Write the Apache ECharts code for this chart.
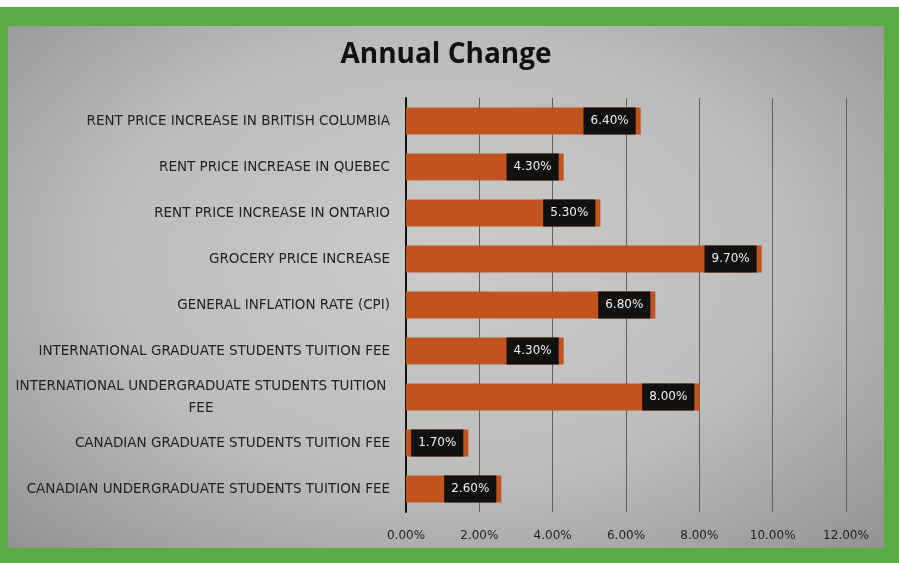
<!DOCTYPE html>
<html>
<head>
<meta charset="utf-8">
<script src="https://cdn.jsdelivr.net/npm/echarts@6/dist/echarts.min.js"></script>
<style>
  html, body { margin: 0; padding: 0; background: #fff; }
  #frame { position: absolute; left: 0; top: 7px; width: 899px; height: 556px; background: #5aab44; }
  #chart { position: absolute; left: 8px; top: 19px; width: 876px; height: 522px;
    background: radial-gradient(ellipse at 50% 45%, #cbcbcb 0%, #bcbcbc 55%, #929292 100%); }
</style>
</head>
<body>
<div id="frame"><div id="chart"></div></div>
<script>
// categories top -> bottom
var categories = [
  'RENT PRICE INCREASE IN BRITISH COLUMBIA',
  'RENT PRICE INCREASE IN QUEBEC',
  'RENT PRICE INCREASE IN ONTARIO',
  'GROCERY PRICE INCREASE',
  'GENERAL INFLATION RATE (CPI)',
  'INTERNATIONAL GRADUATE STUDENTS TUITION FEE',
  'INTERNATIONAL UNDERGRADUATE STUDENTS TUITION FEE',
  'CANADIAN GRADUATE STUDENTS TUITION FEE',
  'CANADIAN UNDERGRADUATE STUDENTS TUITION FEE'
];
var annualChange = [6.4, 4.3, 5.3, 9.7, 6.8, 4.3, 8.0, 1.7, 2.6];
var xTicks = [0, 2, 4, 6, 8, 10, 12];

var chart = echarts.init(document.getElementById('chart'));

chart.setOption({
  textStyle: { fontFamily: 'DejaVu Sans' },
  title: {
    text: 'Annual Change',
    left: 'center',
    top: 10,
    textStyle: { fontSize: 28, fontWeight: 'bold', color: '#111', fontFamily: 'Open Sans' }
  },
  grid: { left: 398, right: 38, top: 72, bottom: 36 },
  xAxis: {
    type: 'value',
    min: xTicks[0],
    max: xTicks[xTicks.length - 1],
    interval: 2,
    axisLine: { show: false },
    axisTick: { show: false },
    axisLabel: {
      color: '#222', fontSize: 12, margin: 18, fontFamily: 'DejaVu Sans',
      formatter: function (v) { return v.toFixed(2) + '%'; }
    },
    splitLine: { show: true, lineStyle: { color: '#5e5e5e', width: 1 } }
  },
  yAxis: {
    type: 'category',
    data: categories,
    inverse: true,
    axisLine: { show: true, lineStyle: { color: '#111', width: 2 } },
    axisTick: { show: false },
    axisLabel: {
      color: '#222', fontSize: 13.5, margin: 16, align: 'right', fontFamily: 'DejaVu Sans',
      formatter: function (v) {
        if (v.length > 45) {
          var cut = v.lastIndexOf(' ');
          return '{c|' + v.slice(0, cut) + '}\n{c|' + v.slice(cut + 1) + '}';
        }
        return v;
      },
      rich: { c: { width: 378, align: 'center', fontSize: 13.5, color: '#222', lineHeight: 22, fontFamily: 'DejaVu Sans' } }
    }
  },
  series: [{
    type: 'bar',
    data: annualChange,
    barWidth: 27,
    itemStyle: { color: '#c1531f' },
    label: {
      show: true,
      position: 'insideRight',
      distance: 5,
      color: '#eee',
      fontSize: 12,
      fontFamily: 'DejaVu Sans',
      backgroundColor: '#111',
      padding: [7, 7],
      lineHeight: 13,
      formatter: function (p) { return p.value.toFixed(2) + '%'; }
    }
  }]
});
</script>
</body>
</html>
